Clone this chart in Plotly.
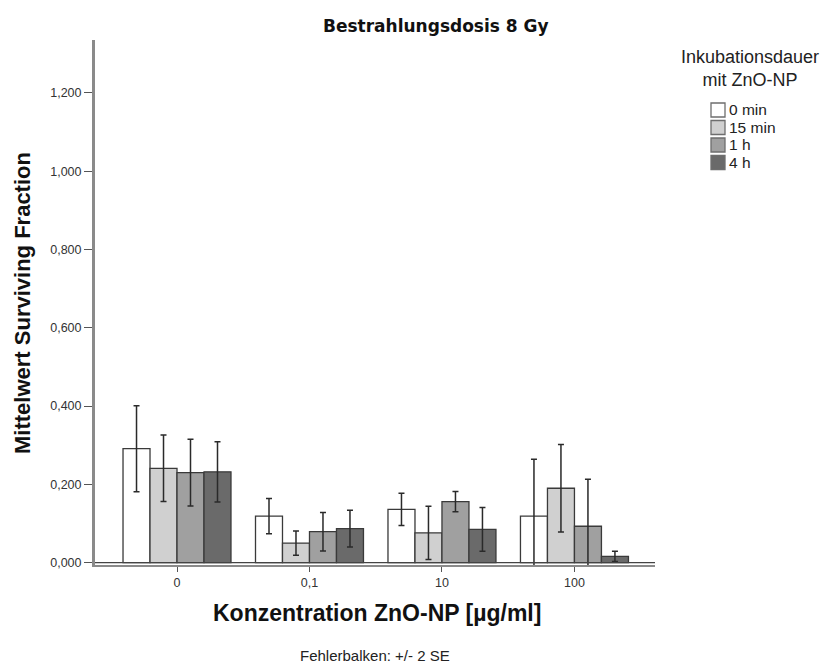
import plotly.graph_objects as go

categories = ["0", "0,1", "10", "100"]
series_names = ["0 min", "15 min", "1 h", "4 h"]
mean_0min = [0.291, 0.119, 0.136, 0.119]
mean_15min = [0.241, 0.050, 0.076, 0.190]
mean_1h = [0.230, 0.079, 0.156, 0.093]
mean_4h = [0.232, 0.087, 0.085, 0.016]
err_0min = [0.110, 0.045, 0.041, 0.145]
err_15min = [0.085, 0.031, 0.068, 0.112]
err_1h = [0.085, 0.049, 0.026, 0.120]
err_4h = [0.077, 0.047, 0.056, 0.013]
y_ticks = [0.0, 0.2, 0.4, 0.6, 0.8, 1.0, 1.2]
legend_title = "Inkubationsdauer<br>mit ZnO-NP"

means = [mean_0min, mean_15min, mean_1h, mean_4h]
errs = [err_0min, err_15min, err_1h, err_4h]
colors = ["#ffffff", "#d0d0d0", "#a0a0a0", "#6a6a6a"]

FONT = "Liberation Sans, Arial, sans-serif"

fig = go.Figure()
for name, m, e, c in zip(series_names, means, errs, colors):
    fig.add_trace(go.Bar(
        x=categories, y=m, name=name, showlegend=False,
        marker=dict(color=c, line=dict(color="#3a3a3a", width=1.3)),
        error_y=dict(type="data", array=e, visible=True, color="#2a2a2a",
                     thickness=1.5, width=3),
    ))

L, R, T, B = 95, 655, 40, 565
W, H = 836, 664
pw, ph = R - L, B - T

def px(x):
    return (x - L) / pw

def py(y):
    return (B - y) / ph

shapes = [dict(type="line", xref="paper", yref="y", x0=0, x1=1, y0=0, y1=0,
               line=dict(color="#444", width=1.2))]
annotations = [
    dict(text="<b>Bestrahlungsdosis 8 Gy</b>", x=px(436), y=py(26),
         font=dict(family="DejaVu Sans", size=17, color="#111")),
    dict(text="<b>Konzentration ZnO-NP [µg/ml]</b>", x=px(377), y=py(613),
         font=dict(family=FONT, size=23, color="#111")),
    dict(text="<b>Mittelwert Surviving Fraction</b>", x=px(22), y=py(303),
         textangle=-90, font=dict(family=FONT, size=22, color="#111")),
    dict(text="Fehlerbalken: +/- 2 SE", x=px(375), y=py(655),
         font=dict(family=FONT, size=15, color="#222")),
    dict(text=legend_title, x=px(750), y=py(69), align="center",
         font=dict(family=FONT, size=18, color="#222")),
]

# manual legend (plotly's legend row height cannot be made this compact)
leg_top, leg_step, sw = 110, 17.5, 14
for i, (name, c) in enumerate(zip(series_names, colors)):
    yc = leg_top + i * leg_step
    shapes.append(dict(type="rect", xref="paper", yref="paper",
                       x0=px(711), x1=px(711 + sw), y0=py(yc + sw / 2), y1=py(yc - sw / 2),
                       fillcolor=c, line=dict(color="#6e6e6e", width=1.3)))
    annotations.append(dict(text=name, x=px(727), y=py(yc), xanchor="left",
                            font=dict(family=FONT, size=15.5, color="#222")))

for a in annotations:
    a.setdefault("xref", "paper")
    a.setdefault("yref", "paper")
    a.setdefault("showarrow", False)
    a.setdefault("yanchor", "middle")
    a.setdefault("xanchor", "center")

fig.update_layout(
    width=W, height=H,
    margin=dict(l=L, r=W - R, t=T, b=H - B, pad=0),
    paper_bgcolor="white", plot_bgcolor="white",
    separators=",.",
    barmode="group", bargap=0.185, bargroupgap=0,
    font=dict(family=FONT, size=12, color="#222"),
    showlegend=False,
    xaxis=dict(range=[-0.619, 3.608], showgrid=False, zeroline=False,
               showline=True, linecolor="#8a8a8a", linewidth=2,
               ticks="outside", ticklen=5, tickcolor="#555", tickwidth=1,
               tickfont=dict(family=FONT, size=12.5, color="#333")),
    yaxis=dict(range=[-0.006, 1.335], showgrid=False, zeroline=False,
               showline=True, linecolor="#8a8a8a", linewidth=3,
               ticks="outside", ticklen=8, tickcolor="#555", tickwidth=1,
               tickvals=y_ticks, tickformat=".3f",
               tickfont=dict(family=FONT, size=12.5, color="#333")),
    shapes=shapes,
    annotations=annotations,
)

fig.write_html("out.html")
